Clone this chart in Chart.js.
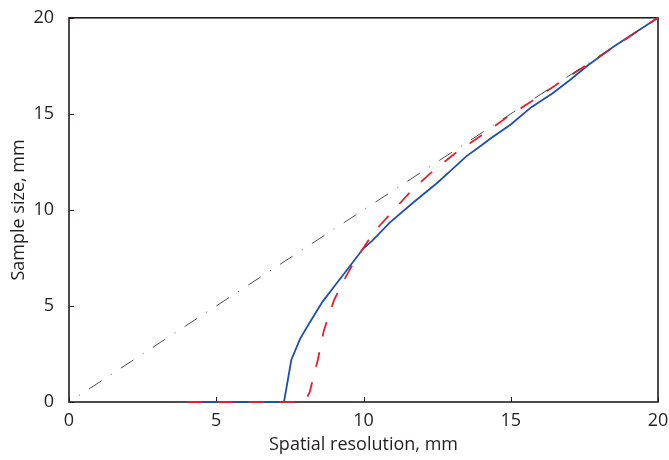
<!DOCTYPE html>
<html>
<head>
<meta charset="utf-8">
<script src="https://cdn.jsdelivr.net/npm/chart.js@4.4.1/dist/chart.umd.min.js"></script>
<style>
  html, body { margin: 0; padding: 0; background: #fff; }
  #wrap { width: 669px; height: 460px; position: relative; }
</style>
</head>
<body>
<div id="wrap"><canvas id="resChart" width="669" height="460"></canvas></div>
<script>
// measured curve (solid)
const measuredX = [4, 7.3, 7.55, 7.85, 8.2, 8.6, 9.05, 9.3, 9.65, 10.0, 10.3, 10.9, 11.7, 12.5, 13.0, 13.5, 14.0, 14.3, 15.0, 15.7, 16.4, 17.0, 17.6, 18.5, 20];
const measuredY = [0, 0, 2.2, 3.3, 4.2, 5.2, 6.1, 6.6, 7.3, 8.0, 8.4, 9.35, 10.4, 11.4, 12.1, 12.8, 13.35, 13.7, 14.45, 15.35, 16.05, 16.75, 17.5, 18.5, 20];

// model curve (dashed)
const modelX = [4, 8.0, 8.17, 8.45, 8.65, 8.82, 9.0, 9.22, 9.5, 9.73, 10.35, 11.0, 11.6, 12.22, 13.07, 14.03, 14.9, 15.5, 20];
const modelY = [0, 0, 0.5, 2.2, 3.7, 4.5, 5.3, 6.0, 6.8, 7.4, 8.84, 9.95, 10.95, 11.84, 12.9, 13.9, 14.85, 15.45, 20];

// reference line y = x
const diagX = [0, 20];
const diagY = [0, 20];

const xTicks = [0, 5, 10, 15, 20];
const yTicks = [0, 5, 10, 15, 20];

const textColor = '#231f20';
const fontFamily = '"Open Sans", "DejaVu Sans", sans-serif';

function toPoints(xs, ys) {
    return xs.map((x, i) => ({ x: x, y: ys[i] }));
}

// box around the plot plus inward tick marks, drawn under the curves
const frameTicks = {
    id: 'frameTicks',
    beforeDatasetsDraw(chart) {
        const ctx = chart.ctx;
        const a = chart.chartArea;
        const sx = chart.scales.x;
        const sy = chart.scales.y;
        ctx.save();
        ctx.strokeStyle = textColor;
        ctx.lineWidth = 1;
        ctx.beginPath();
        xTicks.forEach(v => {
            const px = Math.round(sx.getPixelForValue(v)) + 0.5;
            ctx.moveTo(px, a.bottom);
            ctx.lineTo(px, a.bottom - 5);
        });
        yTicks.forEach(v => {
            const py = Math.round(sy.getPixelForValue(v)) + 0.5;
            ctx.moveTo(a.left, py);
            ctx.lineTo(a.left + 5, py);
        });
        ctx.stroke();
        ctx.lineWidth = 1.6;
        ctx.strokeRect(a.left, a.top, a.right - a.left, a.bottom - a.top);
        ctx.restore();
    }
};

const ctx = document.getElementById('resChart').getContext('2d');
new Chart(ctx, {
    type: 'line',
    data: {
        datasets: [
            {
                data: toPoints(diagX, diagY),
                borderColor: '#4d4d4d',
                borderWidth: 1,
                borderDash: [15, 11, 1, 11],
                borderDashOffset: 14,
                clip: false,
                order: 0
            },
            {
                data: toPoints(modelX, modelY),
                borderColor: '#e2202c',
                borderWidth: 1.8,
                borderDash: [15, 16],
                clip: false,
                order: 1
            },
            {
                data: toPoints(measuredX, measuredY),
                borderColor: '#1f4fae',
                borderWidth: 1.8,
                clip: false,
                order: 2
            }
        ]
    },
    options: {
        responsive: false,
        animation: false,
        elements: {
            point: { radius: 0 },
            line: { tension: 0, borderCapStyle: 'butt' }
        },
        layout: { padding: { top: 14, right: 11, left: 0, bottom: 0 } },
        plugins: {
            legend: { display: false },
            tooltip: { enabled: false }
        },
        scales: {
            x: {
                type: 'linear',
                min: 0,
                max: 20,
                afterBuildTicks: s => { s.ticks = xTicks.map(v => ({ value: v })); },
                afterFit: s => { s.height = 58; },
                grid: { display: false },
                border: { display: false },
                ticks: {
                    color: textColor,
                    font: { family: fontFamily, size: 18 },
                    padding: 0,
                    maxRotation: 0
                },
                title: {
                    display: true,
                    text: 'Spatial resolution, mm',
                    color: textColor,
                    font: { family: fontFamily, size: 18 },
                    padding: { top: 0, bottom: 4 }
                }
            },
            y: {
                type: 'linear',
                min: 0,
                max: 20,
                afterBuildTicks: s => { s.ticks = yTicks.map(v => ({ value: v })); },
                afterFit: s => { s.width = 69; },
                grid: { display: false },
                border: { display: false },
                ticks: {
                    color: textColor,
                    font: { family: fontFamily, size: 18 },
                    padding: 7
                },
                title: {
                    display: true,
                    text: 'Sample size, mm',
                    color: textColor,
                    font: { family: fontFamily, size: 18 },
                    padding: { top: 8, bottom: 0 }
                }
            }
        }
    },
    plugins: [frameTicks]
});
</script>
</body>
</html>
